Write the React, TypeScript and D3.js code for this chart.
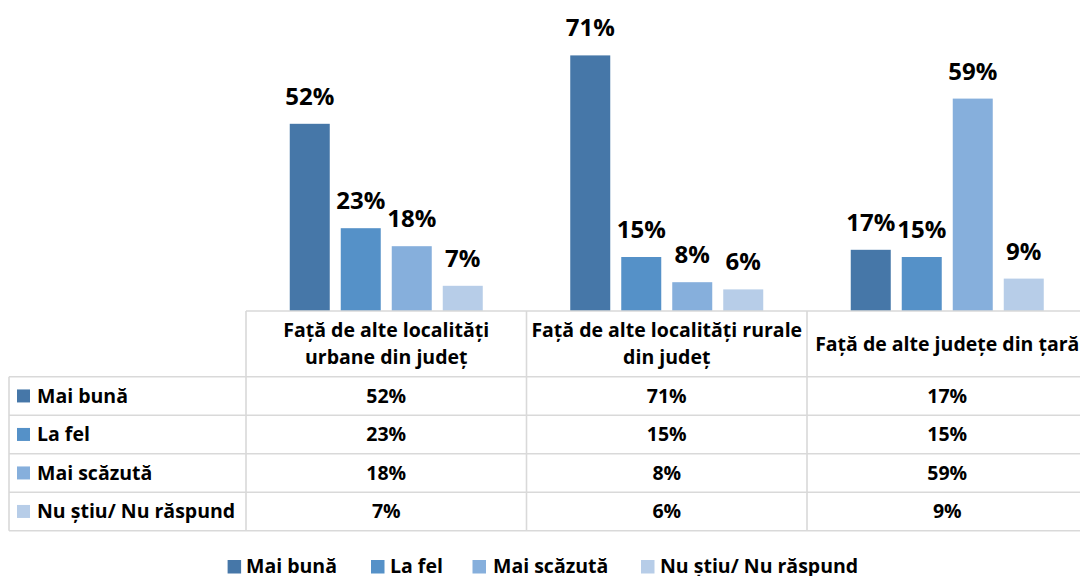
import React from "react";
import * as d3 from "d3";

const categories = [
  ["Față de alte localități", "urbane din județ"],
  ["Față de alte localități rurale", "din județ"],
  ["Față de alte județe din țară"],
];
const series = ["Mai bună", "La fel", "Mai scăzută", "Nu știu/ Nu răspund"];
const colors = ["#4677A8", "#5591C8", "#86AFDC", "#B7CDE8"];
const maiBuna = [52, 71, 17];
const laFel = [23, 15, 15];
const maiScazuta = [18, 8, 59];
const nuStiu = [7, 6, 9];
const values = [maiBuna, laFel, maiScazuta, nuStiu];

const W = 1080;
const H = 576;
const FONT = "'Open Sans', 'DejaVu Sans', sans-serif";
const GRID = "#D9D9D9";

export default function App() {
  const x0 = d3
    .scaleBand<number>()
    .domain([0, 1, 2])
    .range([246, 246 + 3 * 280.5])
    .padding(0);
  const x1 = d3
    .scaleBand<number>()
    .domain([0, 1, 2, 3])
    .range([-96.5, 96.5])
    .paddingInner(0.2157)
    .paddingOuter(0);
  const y = d3.scaleLinear().domain([0, 80]).range([311, 23]);

  const tableLeft = 9;
  const tableRight = x0.range()[1];
  const headerTop = y(0);
  const headerBottom = 376.7;
  const rowH = (530.7 - headerBottom) / 4;
  const rowYs = d3.range(5).map((i) => headerBottom + i * rowH);
  const colXs = [0, 1, 2].map((i) => x0(i)!).concat([tableRight]);

  const legendItems = [
    { sq: 227.6, tx: 246 },
    { sq: 371, tx: 390 },
    { sq: 472.5, tx: 493 },
    { sq: 641, tx: 660 },
  ];

  return (
    <svg
      width={W}
      height={H}
      style={{ position: "absolute", left: 0, top: 0, background: "#fff" }}
      fontFamily={FONT}
    >
      {/* bars */}
      {categories.map((_, ci) => (
        <g key={ci} transform={`translate(${x0(ci)! + x0.bandwidth() / 2},0)`}>
          {series.map((s, si) => {
            const v = values[si][ci];
            const bx = x1(si)!;
            return (
              <g key={s}>
                <rect
                  x={bx}
                  y={y(v)}
                  width={x1.bandwidth()}
                  height={y(0) - y(v)}
                  fill={colors[si]}
                />
                <text
                  x={bx + x1.bandwidth() / 2}
                  y={y(v) - 19}
                  textAnchor="middle"
                  fontSize={24}
                  fontWeight="bold"
                  fill="#000"
                >
                  {v}%
                </text>
              </g>
            );
          })}
        </g>
      ))}

      {/* table grid */}
      <g stroke={GRID} strokeWidth={1.6}>
        <line x1={colXs[0]} x2={tableRight} y1={headerTop} y2={headerTop} />
        {rowYs.map((ry, i) => (
          <line key={i} x1={tableLeft} x2={tableRight} y1={ry} y2={ry} />
        ))}
        <line x1={tableLeft} x2={tableLeft} y1={headerBottom} y2={rowYs[4]} />
        {colXs.map((cx, i) => (
          <line key={i} x1={cx} x2={cx} y1={headerTop} y2={rowYs[4]} />
        ))}
      </g>

      {/* headers */}
      {categories.map((lines, ci) => {
        const cx = x0(ci)! + x0.bandwidth() / 2;
        const mid = (headerTop + headerBottom) / 2;
        const lh = 27;
        const start = mid - ((lines.length - 1) * lh) / 2 + 7;
        return (
          <text
            key={ci}
            textAnchor="middle"
            fontSize={19.5}
            fontWeight="bold"
            fill="#000"
          >
            {lines.map((l, li) => (
              <tspan key={li} x={cx} y={start + li * lh}>
                {l}
              </tspan>
            ))}
          </text>
        );
      })}

      {/* rows */}
      {series.map((s, si) => {
        const top = rowYs[si];
        const mid = top + rowH / 2;
        return (
          <g key={s}>
            <rect x={17} y={mid - 6.5} width={13} height={13} fill={colors[si]} />
            <text x={37} y={mid + 7} fontSize={19.5} fontWeight="bold" fill="#000">
              {s}
            </text>
            {categories.map((_, ci) => (
              <text
                key={ci}
                x={x0(ci)! + x0.bandwidth() / 2}
                y={mid + 7}
                textAnchor="middle"
                fontSize={19.5}
                fontWeight="bold"
                fill="#000"
              >
                {values[si][ci]}%
              </text>
            ))}
          </g>
        );
      })}

      {/* legend */}
      {series.map((s, si) => (
        <g key={s}>
          <rect
            x={legendItems[si].sq}
            y={560}
            width={13.5}
            height={13.5}
            fill={colors[si]}
          />
          <text
            x={legendItems[si].tx}
            y={573}
            fontSize={19.5}
            fontWeight="bold"
            fill="#000"
          >
            {s}
          </text>
        </g>
      ))}
    </svg>
  );
}
